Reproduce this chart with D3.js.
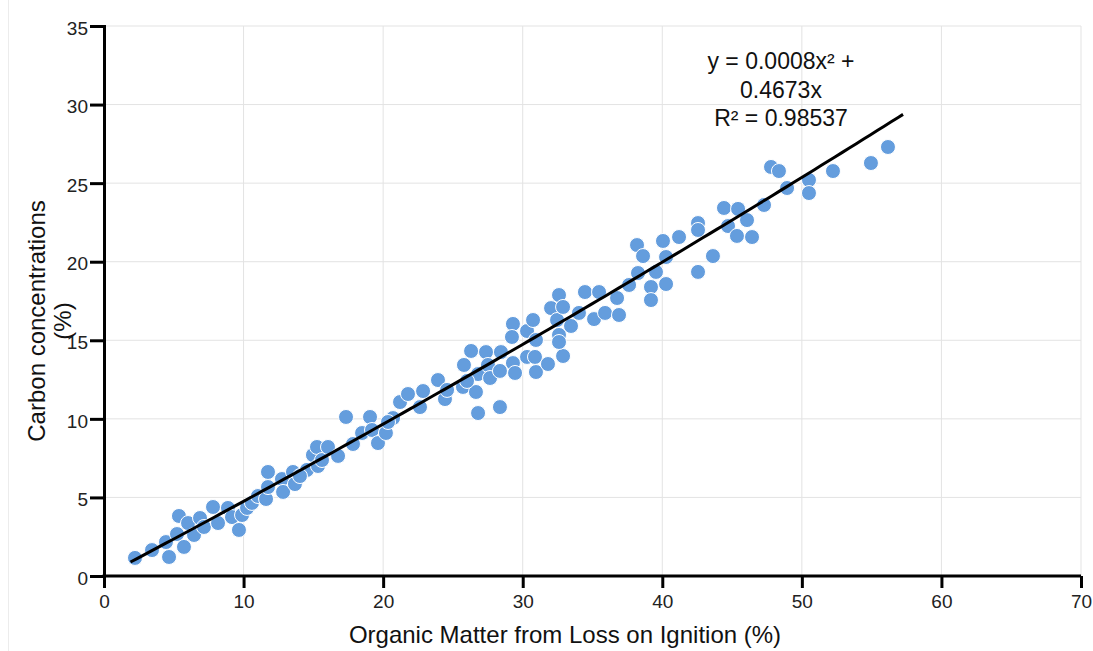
<!DOCTYPE html>
<html>
<head>
<meta charset="utf-8" />
<title>Carbon vs LOI</title>
<script src="https://cdnjs.cloudflare.com/ajax/libs/d3/7.8.5/d3.min.js"></script>
<style>
  body { margin: 0; background: #fff; }
  svg { font-family: "Liberation Sans", Arial, sans-serif; }
</style>
</head>
<body>
<svg id="chart" width="1093" height="651"></svg>
<script>
// organic matter (LOI %) for each sample
const loi = [2.22, 3.44, 4.44, 4.66, 5.23, 5.37, 5.73, 6.02, 6.45, 6.88,
  7.16, 7.81, 8.17, 8.88, 9.17, 9.67, 9.89, 10.25, 10.60, 11.03,
  11.61, 11.75, 11.75, 12.75, 12.83, 13.54, 13.68, 14.54, 14.97, 15.26,
  15.33, 15.62, 16.05, 16.77, 17.34, 17.84, 18.49, 19.06, 19.20, 19.63,
  20.20, 20.71, 20.35, 21.21, 21.78, 22.64, 22.86, 23.93, 24.43, 24.58,
  25.72, 25.79, 26.30, 26.65, 26.80, 26.80, 27.37, 27.51, 27.66, 28.37,
  28.37, 28.44, 29.30, 29.23, 29.30, 29.45, 26.01, 30.31, 30.88, 30.95,
  31.81, 32.89, 30.31, 30.74, 30.95, 32.03, 32.46, 32.60, 32.60, 32.60,
  32.89, 33.46, 34.03, 34.46, 35.11, 35.47, 35.90, 36.76, 36.90, 37.62,
  38.19, 38.62, 38.26, 39.19, 39.19, 39.55, 40.05, 40.27, 40.27, 41.20,
  42.56, 42.56, 42.56, 43.63, 44.42, 44.71, 45.43, 45.35, 46.07, 46.43,
  47.29, 47.79, 48.36, 48.94, 50.51, 50.51, 52.23, 54.95, 56.17, 14.04]
// carbon concentration (%) for the same samples
const carbon = [1.15, 1.65, 2.16, 1.21, 2.67, 3.82, 1.85, 3.37, 2.61, 3.69,
  3.12, 4.39, 3.37, 4.33, 3.75, 2.93, 3.88, 4.33, 4.65, 5.09,
  4.90, 6.62, 5.66, 6.17, 5.35, 6.62, 5.85, 6.75, 7.70, 8.21,
  7.00, 7.38, 8.21, 7.64, 10.12, 8.40, 9.10, 10.12, 9.29, 8.46,
  9.10, 10.05, 9.80, 11.07, 11.58, 10.75, 11.77, 12.47, 11.26, 11.84,
  12.03, 13.43, 14.32, 11.71, 10.37, 12.85, 14.25, 13.43, 12.60, 10.75,
  13.05, 14.25, 16.04, 15.21, 13.55, 12.92, 12.41, 13.94, 13.94, 12.98,
  13.49, 14.00, 15.59, 16.29, 15.02, 17.05, 16.29, 17.88, 15.34, 14.89,
  17.12, 15.91, 16.74, 18.07, 16.35, 18.07, 16.74, 17.69, 16.61, 18.52,
  21.06, 20.36, 19.28, 18.39, 17.56, 19.35, 21.32, 20.30, 18.58, 21.57,
  22.46, 22.02, 19.35, 20.36, 23.42, 22.27, 23.36, 21.64, 22.65, 21.57,
  23.61, 26.03, 25.77, 24.69, 25.20, 24.37, 25.77, 26.28, 27.30, 6.36]

const xTicks = [0, 10, 20, 30, 40, 50, 60, 70]
const yTicks = [0, 5, 10, 15, 20, 25, 30, 35]
const fitA = 0.0008, fitB = 0.4673
const fitRange = [1.9, 57.25]
const eqLines = ['y = 0.0008x\u00b2 +', '0.4673x', 'R\u00b2 = 0.98537']

const svg = d3.select('#chart')
const mLeft = 104, mRight = 1081, mTop = 26, mBottom = 576

const x = d3.scaleLinear().domain([0, 70]).range([mLeft, mRight])
const y = d3.scaleLinear().domain([0, 35]).range([mBottom, mTop])

// faint frame line at the left edge
svg.append('line').attr('x1', 8.5).attr('x2', 8.5).attr('y1', 0).attr('y2', 651)
  .style('stroke', '#ececec').style('stroke-width', 1)

// grid
svg.append('g').selectAll('line.vg').data(xTicks.slice(1)).enter().append('line')
  .attr('x1', d => x(d)).attr('x2', d => x(d)).attr('y1', mTop).attr('y2', mBottom)
  .style('stroke', '#e3e3e3').style('stroke-width', 1)
svg.append('g').selectAll('line.hg').data(yTicks.slice(1)).enter().append('line')
  .attr('x1', mLeft).attr('x2', mRight).attr('y1', d => y(d)).attr('y2', d => y(d))
  .style('stroke', '#e3e3e3').style('stroke-width', 1)

// points
const pts = loi.map((v, i) => ({ x: v, y: carbon[i] }))
svg.append('g').selectAll('circle').data(pts).enter().append('circle')
  .attr('cx', d => x(d.x)).attr('cy', d => y(d.y)).attr('r', 7.5)
  .style('fill', '#649ddd').style('stroke', '#fff').style('stroke-width', 1)

// trendline
const fitX = d3.range(fitRange[0], fitRange[1], 0.5).concat([fitRange[1]])
const fitPts = fitX.map(v => ({ x: v, y: fitA * v * v + fitB * v }))
svg.append('path')
  .attr('d', d3.line().x(d => x(d.x)).y(d => y(d.y))(fitPts))
  .style('fill', 'none').style('stroke', '#000').style('stroke-width', 3)

// axes
const xAxis = d3.axisBottom(x).tickValues(xTicks).tickSize(12).tickPadding(7)
const yAxis = d3.axisLeft(y).tickValues(yTicks).tickSize(14).tickPadding(2)
const gx = svg.append('g').attr('transform', `translate(0,${mBottom})`).call(xAxis)
const gy = svg.append('g').attr('transform', `translate(${mLeft},0)`).call(yAxis)
for (const g of [gx, gy]) {
  g.select('.domain').style('stroke', '#000').style('stroke-width', 3)
  g.selectAll('.tick line').style('stroke', '#000').style('stroke-width', 3)
  g.selectAll('.tick text').style('font-size', '19px').style('fill', '#222')
    .style('font-family', '"Liberation Sans", Arial, sans-serif')
}
gy.selectAll('.tick text').attr('dy', '0.43em')
gx.select('.domain').attr('d', `M${mLeft - 1.5},0H${mRight}`)

// axis titles
svg.append('text').attr('x', 565).attr('y', 643).attr('text-anchor', 'middle')
  .style('font-size', '24px').style('fill', '#111').text('Organic Matter from Loss on Ignition (%)')
const yt = svg.append('text').attr('transform', 'translate(45,321) rotate(-90)')
  .attr('text-anchor', 'middle').style('font-size', '24px').style('fill', '#111')
yt.append('tspan').attr('x', 0).attr('y', 0).text('Carbon concentrations')
yt.append('tspan').attr('x', 0).attr('y', 26).text('(%)')

// equation
svg.append('g').selectAll('text').data(eqLines).enter().append('text')
  .attr('x', 781).attr('y', (d, i) => 69 + i * 28.5).attr('text-anchor', 'middle')
  .style('font-size', '23px').style('fill', '#111').text(d => d)
</script>
</body>
</html>
